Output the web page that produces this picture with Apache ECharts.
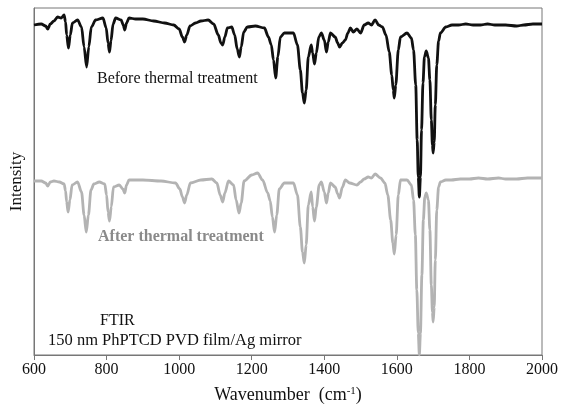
<!DOCTYPE html>
<html><head><meta charset="utf-8">
<script src="https://cdn.jsdelivr.net/npm/echarts@6/dist/echarts.min.js"></script>
<style>html,body{margin:0;padding:0;background:#fff}#c{width:563px;height:410px}</style>
</head><body><div id="c"></div>
<script>
const xTicks = [600, 800, 1000, 1200, 1400, 1600, 1800, 2000];
const beforeSpectrum = [
[600,330],[620,331],[632,329],[638,326],[645,331],[655,334],[665,338],[675,337],[683,340],[687,333],[690,320],[695,307],[700,320],[706,332],[720,335],[731,328],[738,308],[745,288],[751,308],[758,328],[770,335],[790,337],[799,327],[804,312],[808,303],[812,314],[818,331],[825,337],[840,335],[846,330],[850,325],[855,332],[862,337],[880,336],[900,336],[930,334],[960,332],[985,330],[1000,326],[1009,318],[1015,313],[1021,320],[1030,329],[1045,332],[1060,334],[1080,335],[1095,331],[1108,320],[1115,312],[1120,310],[1126,318],[1133,327],[1145,328],[1153,320],[1160,306],[1166,298],[1171,308],[1178,323],[1188,328],[1210,329],[1235,327],[1246,318],[1254,310],[1260,295],[1266,277],[1272,298],[1279,318],[1290,322],[1315,322],[1326,310],[1334,285],[1340,262],[1345,252],[1350,265],[1356,298],[1364,310],[1368,302],[1373,291],[1378,302],[1385,318],[1392,322],[1400,315],[1406,303],[1411,313],[1417,322],[1430,318],[1437,312],[1442,308],[1450,312],[1458,315],[1465,322],[1472,327],[1480,323],[1490,326],[1500,322],[1510,330],[1521,332],[1530,330],[1540,335],[1550,330],[1560,328],[1570,320],[1579,303],[1586,280],[1590,265],[1593,257],[1597,270],[1604,305],[1610,318],[1628,322],[1640,317],[1646,305],[1652,270],[1656,215],[1659,178],[1662,158],[1665,178],[1668,225],[1672,272],[1676,298],[1681,304],[1687,297],[1691,275],[1695,235],[1698,210],[1700,202],[1703,213],[1706,250],[1710,290],[1715,314],[1720,322],[1735,328],[1752,330],[1770,330],[1790,331],[1810,330],[1830,330],[1850,331],[1870,330],[1900,330],[1930,329],[1950,330],[1975,331],[2000,331]
];
const afterSpectrum = [
[600,174],[620,174],[632,172],[638,169],[645,173],[655,174],[670,173],[683,171],[687,164],[690,153],[694,143],[699,155],[705,170],[720,173],[731,163],[738,140],[744,123],[750,140],[757,165],[765,171],[780,173],[795,171],[800,160],[804,143],[808,134],[813,148],[819,168],[835,170],[845,166],[850,162],[855,170],[862,175],[900,175],[950,174],[990,172],[1002,166],[1009,158],[1015,152],[1021,160],[1031,172],[1060,175],[1090,176],[1104,172],[1113,160],[1120,153],[1126,162],[1136,174],[1150,170],[1157,155],[1165,142],[1171,152],[1179,174],[1200,180],[1216,182],[1230,175],[1244,162],[1251,154],[1257,138],[1263,123],[1269,140],[1276,166],[1290,172],[1315,172],[1326,160],[1334,128],[1340,103],[1345,92],[1350,110],[1356,150],[1364,163],[1368,148],[1373,134],[1378,148],[1386,170],[1392,173],[1400,163],[1406,152],[1411,162],[1417,172],[1430,168],[1437,161],[1442,157],[1450,168],[1458,175],[1470,172],[1490,170],[1500,173],[1510,176],[1521,178],[1530,177],[1540,181],[1555,177],[1567,172],[1575,160],[1583,135],[1589,112],[1593,101],[1598,120],[1604,160],[1610,175],[1628,175],[1640,170],[1646,155],[1651,120],[1655,65],[1659,22],[1662,0],[1665,22],[1669,80],[1673,135],[1677,158],[1681,162],[1687,155],[1691,125],[1695,70],[1698,43],[1700,33],[1703,48],[1706,95],[1710,145],[1715,168],[1720,173],[1735,175],[1750,175],[1775,176],[1800,176],[1825,177],[1850,176],[1880,177],[1900,176],[1930,176],[1960,177],[2000,177]
];
const labels = {
  before: 'Before thermal treatment',
  after: 'After thermal treatment',
  ftir: 'FTIR',
  sample: '150 nm PhPTCD PVD film/Ag mirror'
};
const serif = '"Liberation Serif", "DejaVu Serif", serif';
const chart = echarts.init(document.getElementById('c'));
chart.setOption({
  animation: false,
  grid: { left: 33, right: 21, top: 8, bottom: 55, show: true, borderColor: '#777', borderWidth: 1 },
  xAxis: {
    type: 'value', min: 600, max: 2000, interval: 200,
    axisLine: { show: true, lineStyle: { color: '#777' } },
    axisTick: { show: true, length: 5, lineStyle: { color: '#777' } },
    axisLabel: { color: '#111', fontFamily: serif, fontSize: 16, margin: 7,
      formatter: v => xTicks.includes(v) ? String(v) : '' },
    splitLine: { show: false },
    name: '{a|Wavenumber  (cm}{s|-1}{a|)}', nameLocation: 'middle', nameGap: 31,
    nameTextStyle: { rich: {
      a: { fontFamily: serif, fontSize: 18, color: '#111' },
      s: { fontFamily: serif, fontSize: 11, color: '#111', verticalAlign: 'top', padding: [0,0,8,0] }
    } }
  },
  yAxis: {
    type: 'value', min: 0, max: 347,
    axisLine: { show: true, lineStyle: { color: '#777' } },
    axisTick: { show: false }, axisLabel: { show: false }, splitLine: { show: false },
    name: 'Intensity', nameLocation: 'middle', nameGap: 9,
    nameTextStyle: { fontFamily: serif, fontSize: 17, color: '#111' }
  },
  series: [
    { type: 'line', data: afterSpectrum, showSymbol: false, smooth: 0.3, smoothMonotone: 'x',
      lineStyle: { color: '#b3b3b3', width: 2.8 }, z: 2 },
    { type: 'line', data: beforeSpectrum, showSymbol: false, smooth: 0.3, smoothMonotone: 'x',
      lineStyle: { color: '#111', width: 2.8 }, z: 3 }
  ],
  graphic: [
    { type: 'text', left: 97, top: 71, style: { text: labels.before, font: '16px ' + serif, fill: '#111' } },
    { type: 'text', left: 98, top: 229, style: { text: labels.after, font: 'bold 16px ' + serif, fill: '#8a8a8a' } },
    { type: 'text', left: 100, top: 313, style: { text: labels.ftir, font: '16px ' + serif, fill: '#111' } },
    { type: 'text', left: 48, top: 332, style: { text: labels.sample, font: '16.5px ' + serif, fill: '#111' } }
  ]
});
</script></body></html>
